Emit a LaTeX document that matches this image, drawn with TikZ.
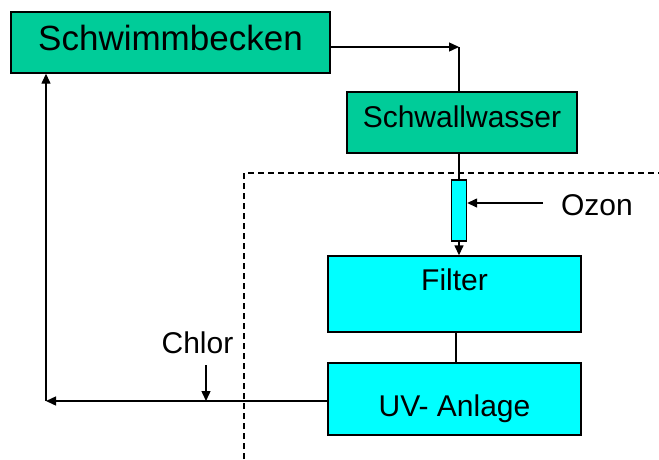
\documentclass[tikz,border=0pt]{standalone}
\usepackage{fontspec}
\setmainfont{Liberation Sans}
\usetikzlibrary{arrows.meta,positioning,calc}

\definecolor{beckengruen}{RGB}{0,204,153}
\definecolor{anlagecyan}{RGB}{0,255,255}

\tikzset{
  gruenbox/.style={draw,line width=1.4pt,fill=beckengruen,inner sep=0pt},
  cyanbox/.style={draw,line width=1.4pt,fill=anlagecyan,inner sep=0pt},
  fluss/.style={line width=1.4pt,-{Triangle[length=10pt,width=9pt]}},
  leitung/.style={line width=1.4pt},
  gross/.style={font=\fontsize{35}{40}\selectfont},
  normal/.style={font=\fontsize{30}{36}\selectfont}
}

\begin{document}
\begin{tikzpicture}[x=1pt,y=-1pt]
\useasboundingbox (0,0) rectangle (659,459);
% Kaestchen
\node[gruenbox,gross,minimum width=319pt,minimum height=61pt,
      text height=25pt,text depth=10pt] (becken) at (170.5,42.5) {Schwimmbecken};
\node[gruenbox,normal,minimum width=230pt,minimum height=61pt,
      text height=22pt,text depth=13pt] (schwall) at (462,122.5) {Schwallwasser};
\node[cyanbox,minimum width=15pt,minimum height=61pt] (ozrohr) at (459,210.5) {};
\node[cyanbox,normal,minimum width=253pt,minimum height=76pt,
      text height=22pt,text depth=30pt] (filter) at (454.5,294) {Filter};
\node[cyanbox,normal,minimum width=253pt,minimum height=72pt,
      text height=40pt,text depth=6pt] (uv) at (454.5,399) {UV- Anlage};
\node[normal,inner sep=0pt] (ozon) at (597,205) {Ozon};
\node[normal,inner sep=0pt] (chlor) at (197.5,343) {Chlor};
% Hilfspunkte
\coordinate (knick) at (459,47);
\coordinate (ozein) at (543,203);
\coordinate (steg) at (456,340);
\coordinate (rueck) at (46,401);
\coordinate (clein) at (206,365);
% Leitungen
\draw[fluss] (becken.east |- knick) -- (knick);
\draw[leitung] (knick) -- (knick |- schwall.north);
\draw[leitung] (ozrohr.north |- schwall.south) -- (ozrohr.north);
\draw[fluss] (ozrohr.south) -- (ozrohr.south |- filter.north);
\draw[fluss] (ozein) -- (ozrohr.east |- ozein);
\draw[leitung] (steg |- filter.south) -- (steg |- uv.north);
\draw[fluss] (uv.west |- rueck) -- (rueck);
\draw[fluss] (rueck) -- (rueck |- becken.south);
\draw[fluss] (clein) -- (clein |- rueck);
% Grenze
\draw[line width=1.1pt,dash pattern=on 6pt off 4pt] (244,459) -- (244,173) -- (659,173);
\end{tikzpicture}
\end{document}
